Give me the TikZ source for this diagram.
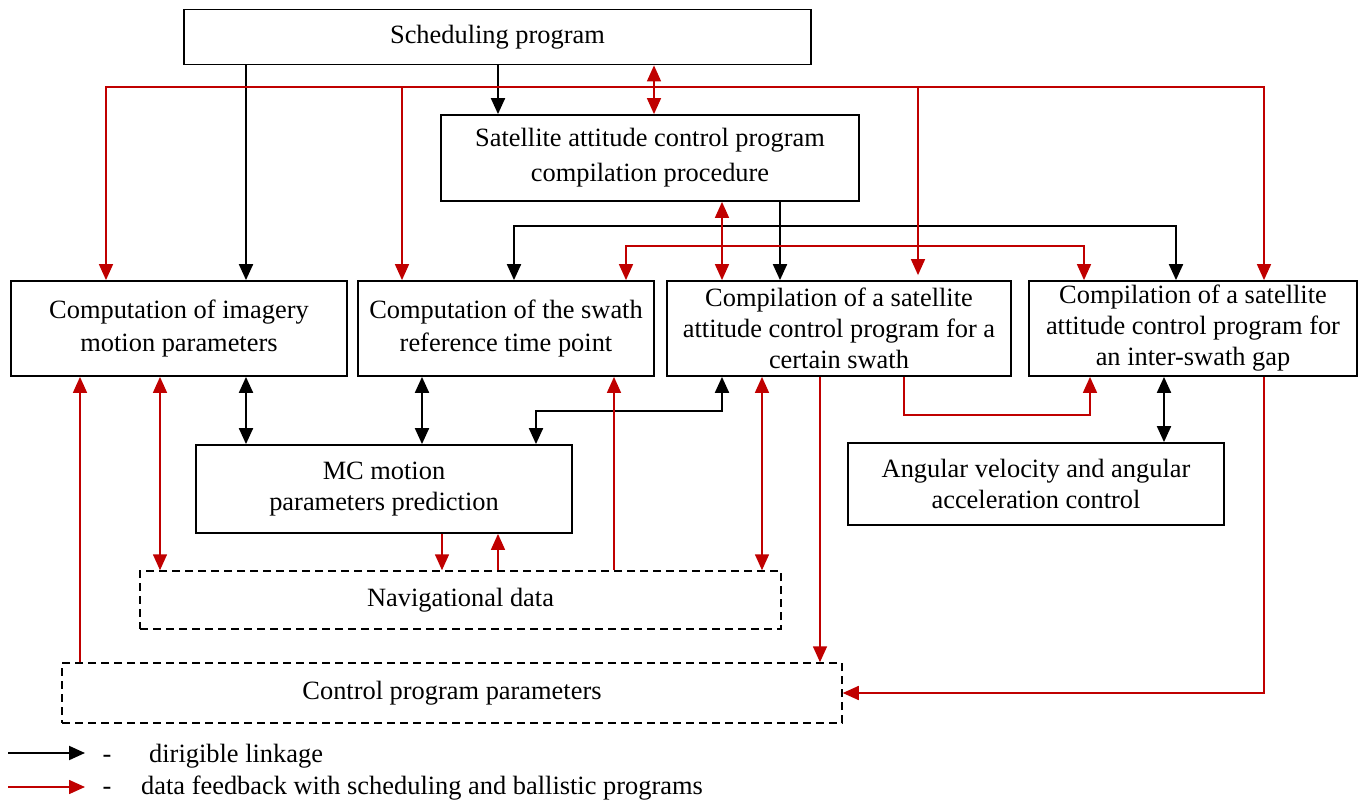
\documentclass[tikz,border=0pt]{standalone}
\usepackage{fontspec}
\setmainfont{Liberation Serif}
\usetikzlibrary{arrows.meta}
\definecolor{fbred}{RGB}{192,0,0}
\begin{document}
\begin{tikzpicture}[x=1pt,y=-1pt,
  every node/.style={font=\fontsize{26.4}{33}\selectfont},
  box/.style={draw, line width=1.8pt, inner sep=0pt, align=center},
  dbox/.style={draw, line width=1.5pt, dash pattern=on 8pt off 5pt, inner sep=0pt, align=center},
  ctl/.style={line width=2pt, -{Triangle[length=16pt,width=14pt]}},
  ctlb/.style={line width=2pt, {Triangle[length=16pt,width=14pt]}-{Triangle[length=16pt,width=14pt]}},
  fb/.style={fbred, line width=1.6pt, -{Triangle[length=16pt,width=14pt]}},
  fbb/.style={fbred, line width=1.6pt, {Triangle[length=16pt,width=14pt]}-{Triangle[length=16pt,width=14pt]}},
]
\useasboundingbox (0,0) rectangle (1361,800);

% blocks
\node[box, minimum width=627pt, minimum height=55pt] (sched) at (497.5,37) {Scheduling program};
\node[box, minimum width=418pt, minimum height=86pt, font=\fontsize{26.4}{35}\selectfont] (sat) at (650,158)
  {Satellite attitude control program\\compilation procedure};
\node[box, minimum width=336pt, minimum height=95pt] (imag) at (179,328.5)
  {Computation of imagery\\motion parameters};
\node[box, minimum width=296pt, minimum height=95pt] (swath) at (506,328.5)
  {Computation of the swath\\reference time point};
\node[box, minimum width=344pt, minimum height=95pt, font=\fontsize{26.4}{31}\selectfont] (cert) at (839,328.5)
  {Compilation of a satellite\\attitude control program for a\\certain swath};
\node[box, minimum width=328pt, minimum height=95pt, font=\fontsize{26.4}{31}\selectfont] (gap) at (1193,328.5)
  {Compilation of a satellite\\attitude control program for\\an inter-swath gap};
\node[box, minimum width=376pt, minimum height=88pt, font=\fontsize{26.4}{31}\selectfont] (mc) at (384,489)
  {MC motion\\parameters prediction};
\node[box, minimum width=376pt, minimum height=82pt, font=\fontsize{26.4}{31}\selectfont] (ang) at (1036,484)
  {Angular velocity and angular\\acceleration control};
\node[dbox, minimum width=641pt, minimum height=58pt] (nav) at (460.5,600) {Navigational data};
\node[dbox, minimum width=780pt, minimum height=60pt] (ctrl) at (452,693) {Control program parameters};

% junction points of the distribution lines
\coordinate (kb) at (780,226);
\coordinate (rb) at (654,87);
\coordinate (rj) at (722,246);

% dirigible linkage
\draw[ctl] (sched.south -| 246,0) -- (imag.north -| 246,0);
\draw[ctl] (sched.south -| 498,0) -- (sat.north -| 498,0);
\draw[ctl] (sat.south -| 780,0) -- (cert.north -| 780,0);
\draw[ctl] (kb) -| (swath.north -| 514,0);
\draw[ctl] (kb) -| (gap.north -| 1176,0);
\draw[ctlb] (imag.south -| 246,0) -- (mc.north -| 246,0);
\draw[ctlb] (swath.south -| 422,0) -- (mc.north -| 422,0);
\draw[ctlb] (cert.south -| 722,0) -- (722,411) -| (mc.north -| 536,0);
\draw[ctlb] (gap.south -| 1164,0) -- (ang.north -| 1164,0);

% data feedback
\draw[fbb] (sched.south -| 654,0) -- (sat.north -| 654,0);
\draw[fb] (rb) -| (imag.north -| 106,0);
\draw[fb] (rb) -| (swath.north -| 402,0);
\draw[fb, shorten >=5pt] (rb) -| (cert.north -| 918,0);
\draw[fb] (rb) -| (gap.north -| 1264,0);
\draw[fbb] (sat.south -| 722,0) -- (cert.north -| 722,0);
\draw[fb] (rj) -| (swath.north -| 626,0);
\draw[fb] (rj) -| (gap.north -| 1084,0);
\draw[fbb] (imag.south -| 160,0) -- (nav.north -| 160,0);
\draw[fb] (ctrl.north -| 80,0) -- (imag.south -| 80,0);
\draw[fb] (mc.south -| 442,0) -- (nav.north -| 442,0);
\draw[fb] (nav.north -| 498,0) -- (mc.south -| 498,0);
\draw[fb] (nav.north -| 614,0) -- (swath.south -| 614,0);
\draw[fbb] (cert.south -| 762,0) -- (nav.north -| 762,0);
\draw[fb] (cert.south -| 820,0) -- (ctrl.north -| 820,0);
\draw[fb] (cert.south -| 904,0) -- (904,415) -| (gap.south -| 1090,0);
\draw[fb] (gap.south -| 1264,0) |- (ctrl.east);

% legend
\coordinate (la) at (8,753);
\coordinate (lb) at (85,753);
\coordinate (lc) at (8,787);
\coordinate (ld) at (85,787);
\draw[ctl] (la) -- (lb);
\draw[fb] (lc) -- (ld);
\node[anchor=base, inner sep=0pt] (lda) at (107,762) {-};
\node[anchor=base, inner sep=0pt] (ldb) at (107,794) {-};
\node[anchor=base west, inner sep=0pt] (lt1) at (149,762) {dirigible linkage};
\node[anchor=base west, inner sep=0pt] (lt2) at (141,794) {data feedback with scheduling and ballistic programs};
\end{tikzpicture}
\end{document}
